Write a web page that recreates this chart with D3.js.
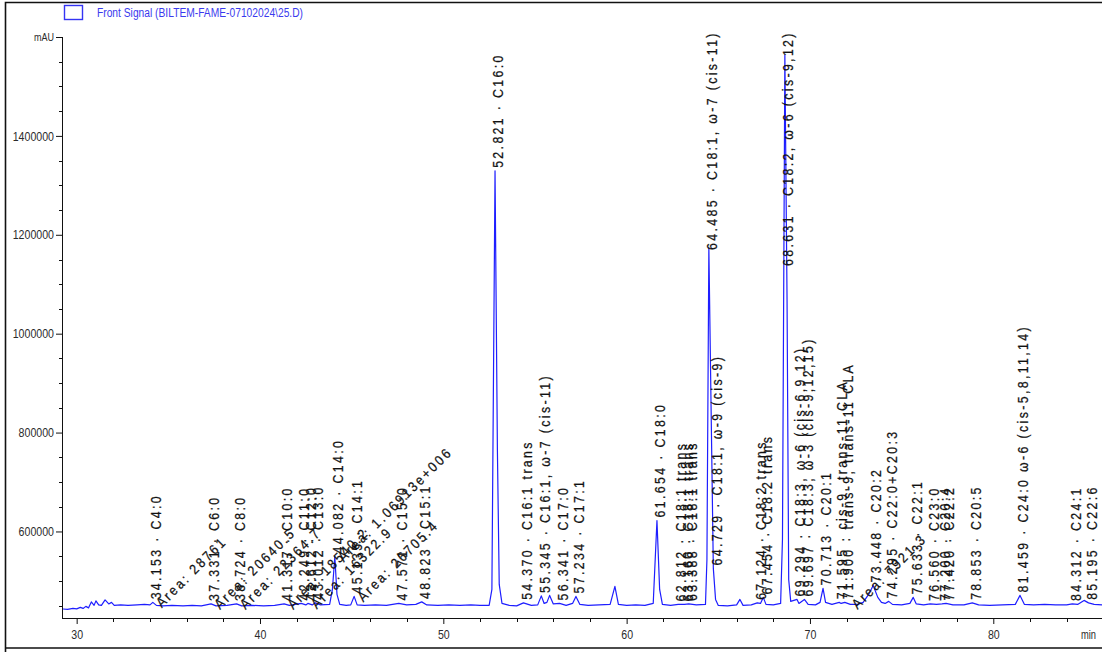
<!DOCTYPE html>
<html>
<head>
<meta charset="utf-8">
<script src="https://cdn.jsdelivr.net/npm/d3@7"></script>
<style>
  html, body { margin: 0; padding: 0; background: #ffffff; }
  svg { display: block; }
  .tick-label { font-family: "Liberation Sans", Arial, sans-serif; font-size: 13px; fill: #2b2b2b; }
  .peak-label { font-family: "Liberation Sans", Arial, sans-serif; font-size: 14px; letter-spacing: 2.7px;
                fill: #111; stroke: #111; stroke-width: 0.25px; }
</style>
</head>
<body>
<svg id="chart" width="1102" height="652"></svg>
<script>
// Front signal trace: retention time (min) and detector response (mAU)
const traceTime = [
  29.2, 29.5, 29.8, 30.0, 30.2, 30.35, 30.5, 30.65, 30.8, 30.95, 31.05, 31.2, 31.35, 31.55, 31.75, 31.9,
  32.05, 32.4, 32.8, 33.3, 33.7, 34.0, 34.153, 34.35, 34.7, 35.2, 35.8, 36.3, 36.8, 37.331, 37.6, 38.2,
  38.724, 39.0, 39.6, 40.2, 40.8, 41.317, 41.6, 42.249, 42.5, 42.612, 42.85, 43.012, 43.3, 43.8, 43.95,
  44.082, 44.2, 44.35, 44.7, 44.95, 45.135, 45.3, 45.7, 46.3, 46.9, 47.571, 48.0, 48.5, 48.823, 49.1,
  49.7, 50.3, 50.9, 51.5, 52.0, 52.5, 52.65, 52.821, 52.95, 53.05, 53.2, 53.6, 54.0, 54.37, 54.8, 55.15,
  55.345, 55.5, 55.65, 55.8, 56.0, 56.341, 56.7, 57.05, 57.234, 57.45, 57.9, 58.5, 59.1, 59.36, 59.55,
  60.0, 60.5, 61.0, 61.45, 61.654, 61.8, 61.95, 62.4, 62.812, 63.16, 63.388, 63.8, 64.3, 64.38, 64.485,
  64.6, 64.729, 64.85, 65.0, 65.5, 66.0, 66.18, 66.35, 66.8, 67.124, 67.3, 67.454, 67.6, 68.0, 68.4,
  68.5, 68.631, 68.75, 68.84, 68.95, 69.294, 69.4, 69.697, 69.9, 70.3, 70.55, 70.713, 70.85, 71.2,
  71.595, 71.7, 71.9, 72.2, 72.6, 72.9, 73.2, 73.448, 73.7, 73.9, 74.1, 74.295, 74.5, 75.0, 75.45,
  75.633, 75.8, 76.2, 76.56, 76.9, 77.2, 77.42, 77.8, 78.4, 78.853, 79.2, 79.8, 80.5, 81.2, 81.459,
  81.7, 82.2, 82.8, 83.4, 84.0, 84.312, 84.6, 84.95, 85.195, 85.5, 85.93
];
const traceSignal = [
  443400, 442400, 444400, 443400, 446500, 444400, 448500, 445500, 457600, 450500, 459600, 451500, 450500, 461600, 453500, 456600,
  450500, 451500, 450500, 451500, 452500, 451500, 456600, 450500, 449500, 450500, 449500, 450500, 449500, 453500, 449500, 450500,
  453500, 449500, 450500, 449500, 450500, 453500, 450500, 454500, 451500, 454500, 451500, 455600, 451500, 452500, 482800,
  549500, 472700, 452500, 450500, 451500, 468700, 451500, 450500, 451500, 450500, 454500, 451500, 452500, 457600, 451500,
  450500, 451500, 450500, 451500, 450500, 450500, 482800, 1329300, 765700, 492900, 454500, 450500, 449500, 455600, 450500, 451500,
  469700, 454500, 456600, 470700, 453500, 454500, 450500, 454500, 468700, 452500, 450500, 451500, 452500, 488900, 452500,
  450500, 451500, 450500, 454500, 622200, 482800, 452500, 450500, 452500, 452500, 453500, 451500, 452500, 543400, 1173700,
  866700, 525300, 462600, 450500, 449500, 451500, 462600, 450500, 451500, 455600, 454500, 466700, 452500, 451500, 454500,
  583800, 1563600, 1068700, 503000, 458600, 462600, 454500, 462600, 452500, 451500, 456600, 484800, 456600, 452500,
  456600, 454500, 456600, 452500, 452500, 456600, 472700, 490900, 466700, 456600, 454500, 458600, 452500, 451500, 454500,
  466700, 453500, 451500, 453500, 452500, 453500, 454500, 451500, 451500, 455600, 451500, 450500, 451500, 452500, 470700,
  452500, 451500, 452500, 451500, 451500, 453500, 452500, 460600, 455600, 452500, 451500
];

// Integrated peaks: retention time and component name
const peakTimes = [
  34.153, 37.331, 38.724, 41.317, 42.249, 42.612, 43.012, 44.082, 45.135, 47.571, 48.823,
  52.821, 54.370, 55.345, 56.341, 57.234, 61.654, 62.812, 63.160, 63.388, 64.485, 64.729,
  67.124, 67.454, 68.631, 69.294, 69.697, 70.713, 71.595, 71.900, 73.448, 74.295, 75.633,
  76.560, 77.200, 77.420, 78.853, 81.459, 84.312, 85.195
];
const peakNames = [
  "C4:0", "C6:0", "C8:0", "C10:0", "C11:0", "C12:0", "C13:0", "C14:0", "C14:1", "C15:0", "C15:1",
  "C16:0", "C16:1 trans", "C16:1, ω-7 (cis-11)", "C17:0", "C17:1", "C18:0", "C18:1 trans", "C18:1 trans", "C18:1 trans",
  "C18:1, ω-7 (cis-11)", "C18:1, ω-9 (cis-9)",
  "C18:2 trans", "C18:2 trans", "C18:2, ω-6 (cis-9,12)", "C18:3, ω-6 (cis-6,9,12)", "C18:3, ω-3 (cis-9,12,15)",
  "C20:1", "cis-9, trans-11 CLA", "trans-9, trans-11 CLA", "C20:2", "C22:0+C20:3", "C22:1",
  "C23:0", "C20:4", "C22:2", "C20:5", "C24:0 ω-6 (cis-5,8,11,14)", "C24:1", "C22:6"
];

// Area annotations
const areaTimes = [34.153, 37.331, 38.724, 41.317, 42.612, 44.082, 45.135, 72.1];
const areaValues = ["28761", "20640.5", "22364.7", "18540.2", "16322.9", "1.06913e+006", "26705.4", "7921.3"];

// Axis ticks
const xMajorTicks = [30, 40, 50, 60, 70, 80];
const yMajorTicks = [600000, 800000, 1000000, 1200000, 1400000];
const yTopTick = 1600000;
const yUnit = "mAU";
const xUnit = "min";
const legendText = "Front Signal (BILTEM-FAME-07102024\\25.D)";

const svg = d3.select("#chart");
const W = 1102, H = 652;
const plot = { left: 62, right: 1102, top: 37, bottom: 618 };
const DIGIT_W = 5.9;      // condensed width of one tick-label character
const LABEL_SQUEEZE = 0.88;

const x = d3.scaleLinear().domain([29.2, 85.93]).range([plot.left, plot.right]);
const y = d3.scaleLinear().domain([425000, yTopTick]).range([plot.bottom, plot.top]);

// outer frame
svg.append("path")
  .attr("d", `M5.5,${H} L5.5,2.5 L${W},2.5 M5.5,648 L${W},648`)
  .attr("fill", "none").attr("stroke", "#111").attr("stroke-width", 1.6);

// legend
svg.append("rect").attr("x", 64.5).attr("y", 5.5).attr("width", 18).attr("height", 14)
  .attr("fill", "none").attr("stroke", "#3434f4").attr("stroke-width", 1.4);
svg.append("text").attr("x", 97).attr("y", 17)
  .attr("font-family", "'Liberation Sans', Arial, sans-serif")
  .attr("font-size", 12).attr("fill", "#3a3aee")
  .attr("textLength", 206).attr("lengthAdjust", "spacingAndGlyphs")
  .text(legendText);

// axes
const axisColor = "#111";
const yMinor = d3.range(450000, yTopTick, 50000).filter(v => v % 200000 !== 0);
const xMinor = d3.range(30, 86, 2).filter(v => v % 10 !== 0);

const gy = svg.append("g").attr("transform", `translate(${plot.left},0)`);
gy.call(d3.axisLeft(y).tickValues(yMajorTicks.concat([yTopTick])).tickSize(6)
  .tickFormat(d => d === yTopTick ? yUnit : d3.format("d")(d)));
gy.select(".domain").attr("d", `M0.5,${plot.top}V${plot.bottom + 0.5}`).attr("stroke", axisColor);
gy.selectAll(".tick line").attr("stroke", axisColor);
gy.selectAll(".tick text").attr("class", "tick-label").attr("x", -8)
  .attr("textLength", function () { return this.textContent.length * DIGIT_W; })
  .attr("lengthAdjust", "spacingAndGlyphs");
gy.selectAll(".tick").filter(d => d === yTopTick).select("text")
  .style("font-size", "11px").attr("textLength", 20);
gy.selectAll(".minor").data(yMinor).join("line").attr("class", "minor")
  .attr("x1", -3).attr("x2", 0).attr("y1", d => Math.round(y(d)) + 0.5).attr("y2", d => Math.round(y(d)) + 0.5)
  .attr("stroke", axisColor);

const gx = svg.append("g").attr("transform", `translate(0,${plot.bottom})`);
gx.call(d3.axisBottom(x).tickValues(xMajorTicks).tickSize(6).tickFormat(d3.format("d")));
gx.select(".domain").attr("d", `M${plot.left},0.5H${W}`).attr("stroke", axisColor);
gx.selectAll(".tick line").attr("stroke", axisColor);
gx.selectAll(".tick text").attr("class", "tick-label").attr("y", 12)
  .attr("textLength", function () { return this.textContent.length * DIGIT_W; })
  .attr("lengthAdjust", "spacingAndGlyphs");
gx.selectAll(".minor").data(xMinor).join("line").attr("class", "minor")
  .attr("x1", d => Math.round(x(d)) + 0.5).attr("x2", d => Math.round(x(d)) + 0.5).attr("y1", 0).attr("y2", 4)
  .attr("stroke", axisColor);
gx.append("text").attr("class", "tick-label").attr("x", 1081).attr("y", 12).attr("dy", "0.71em")
  .attr("text-anchor", "start").attr("textLength", 15).attr("lengthAdjust", "spacingAndGlyphs")
  .text(xUnit);

// signal trace
const traceData = traceTime.map((t, i) => [t, traceSignal[i]]);
svg.append("clipPath").attr("id", "plotClip")
  .append("rect").attr("x", plot.left + 1).attr("y", 0).attr("width", W - plot.left).attr("height", plot.bottom);
svg.append("path")
  .datum(traceData)
  .attr("clip-path", "url(#plotClip)")
  .attr("fill", "none")
  .attr("stroke", "#1e1eff")
  .attr("stroke-width", 1.2)
  .attr("stroke-linejoin", "round")
  .attr("d", d3.line().x(d => x(d[0])).y(d => y(d[1])));

// signal value at a retention time
const bis = d3.bisector(d => d[0]).left;
function signalAt(t) {
  const i = bis(traceData, t);
  if (i <= 0) return traceData[0][1];
  if (i >= traceData.length) return traceData[traceData.length - 1][1];
  const a = traceData[i - 1], b = traceData[i];
  return a[1] + (b[1] - a[1]) * (t - a[0]) / (b[0] - a[0]);
}

// retention-time labels, written upward from the peak apex
const labelLayer = svg.append("g");
peakTimes.forEach((t, i) => {
  const px = x(t), py = y(signalAt(t));
  const txt = labelLayer.append("text")
    .attr("class", "peak-label")
    .attr("dominant-baseline", "central")
    .text(`${t.toFixed(3)} · ${peakNames[i]}`);
  const len = txt.node().getComputedTextLength() * LABEL_SQUEEZE;
  const bottom = Math.max(py - 3, 31 + len);
  txt.attr("transform", `translate(${px + 3.5},${bottom}) rotate(-90) scale(${LABEL_SQUEEZE},1)`);
});

// area labels at 45 degrees
areaTimes.forEach((t, i) => {
  const px = x(t), py = y(signalAt(t));
  labelLayer.append("text")
    .attr("class", "peak-label")
    .attr("transform", `translate(${px + 9},${py + 6}) rotate(-45) scale(${LABEL_SQUEEZE},1)`)
    .text(`Area: ${areaValues[i]}`);
});
</script>
</body>
</html>
